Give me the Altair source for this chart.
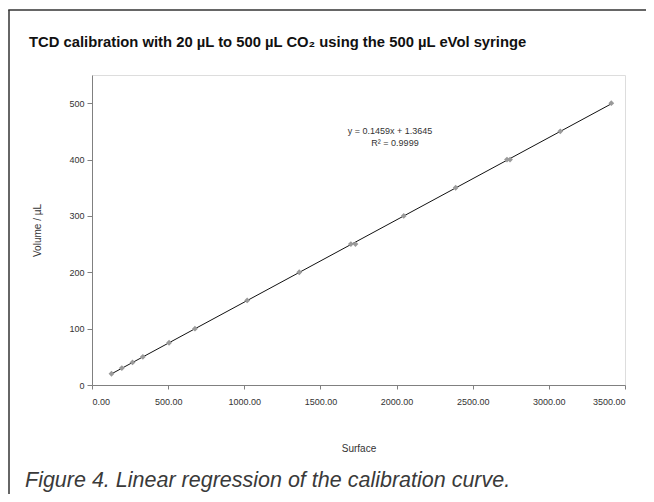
import altair as alt
import pandas as pd

surface = [128, 196, 266, 334, 506, 676, 1019, 1361, 1700, 1730, 2047, 2388, 2725, 2745, 3075, 3410]
volume = [20, 30, 40, 50, 75, 100, 150, 200, 250, 250, 300, 350, 400, 400, 450, 500]
x_ticks = [0, 500, 1000, 1500, 2000, 2500, 3000, 3500]
y_ticks = [0, 100, 200, 300, 400, 500]

title_text = "TCD calibration with 20 µL to 500 µL CO₂ using the 500 µL eVol syringe"
caption_text = "Figure 4. Linear regression of the calibration curve."
eq_lines = ["y = 0.1459x + 1.3645", "R² = 0.9999"]

df = pd.DataFrame({"Surface": surface, "Volume": volume})

FONT = "Liberation Sans"
W, H = 533, 310

xs = alt.Scale(domain=[0, 3500], nice=False, zero=False)
ys = alt.Scale(domain=[0, 550], nice=False, zero=False)

base = alt.Chart(df)

points = base.mark_point(shape="diamond", filled=True, color="#9a9a9a", size=34, opacity=1).encode(
    x=alt.X("Surface:Q", scale=xs, axis=alt.Axis(
        values=x_ticks, format=".2f", title="Surface", grid=False,
        domainColor="#808080", tickColor="#808080", tickSize=4,
        labelFont=FONT, labelFontSize=9, labelColor="#333333", labelPadding=8,
        titleFont=FONT, titleFontSize=10, titleFontWeight="normal", titleColor="#333333",
        titlePadding=37)),
    y=alt.Y("Volume:Q", scale=ys, axis=alt.Axis(
        values=y_ticks, format="d", title="Volume / µL", grid=False,
        domainColor="#808080", tickColor="#808080", tickSize=5,
        labelFont=FONT, labelFontSize=9, labelColor="#333333", labelPadding=3,
        titleFont=FONT, titleFontSize=10, titleFontWeight="normal", titleColor="#333333",
        titlePadding=26)),
)

line = base.transform_regression("Surface", "Volume").mark_line(color="#111111", strokeWidth=1).encode(
    x=alt.X("Surface:Q", scale=xs),
    y=alt.Y("Volume:Q", scale=ys),
)

eq = alt.Chart(pd.DataFrame({"t": [eq_lines[0]]})).mark_text(
    font=FONT, fontSize=9, color="#333333", align="center", baseline="middle"
).encode(text="t:N", x=alt.value(298), y=alt.value(56))
eq2 = alt.Chart(pd.DataFrame({"t": [eq_lines[1]]})).mark_text(
    font=FONT, fontSize=9, color="#333333", align="center", baseline="middle"
).encode(text="t:N", x=alt.value(303), y=alt.value(68))

title = alt.Chart(pd.DataFrame({"t": [title_text]})).mark_text(
    font=FONT, fontSize=14.8, fontWeight="bold", color="#111111", align="left", baseline="alphabetic"
).encode(text="t:N", x=alt.value(-63), y=alt.value(-28))

caption = alt.Chart(pd.DataFrame({"t": [caption_text]})).mark_text(
    font=FONT, fontSize=21.5, fontStyle="italic", color="#3a3a3a", align="left", baseline="alphabetic"
).encode(text="t:N", x=alt.value(-67), y=alt.value(102 + H))

frame_left = alt.Chart(pd.DataFrame({"a": [0]})).mark_rule(
    color="#333333", strokeWidth=1.5
).encode(x=alt.value(-83), y=alt.value(-65), y2=alt.value(900))
frame_top = alt.Chart(pd.DataFrame({"a": [0]})).mark_rule(
    color="#333333", strokeWidth=1.5
).encode(y=alt.value(-65), x=alt.value(-83.75), x2=alt.value(900))

chart = alt.layer(frame_left, frame_top, line, points, eq, eq2, title, caption).properties(
    width=W, height=H,
    autosize=alt.AutoSizeParams(type="none"),
    padding={"left": 84, "top": 67, "right": 21, "bottom": 109},
).configure_view(stroke="#808080", strokeWidth=1.2).configure(background="white")

chart.save("out.html", embed_options={"renderer": "svg", "actions": False})
